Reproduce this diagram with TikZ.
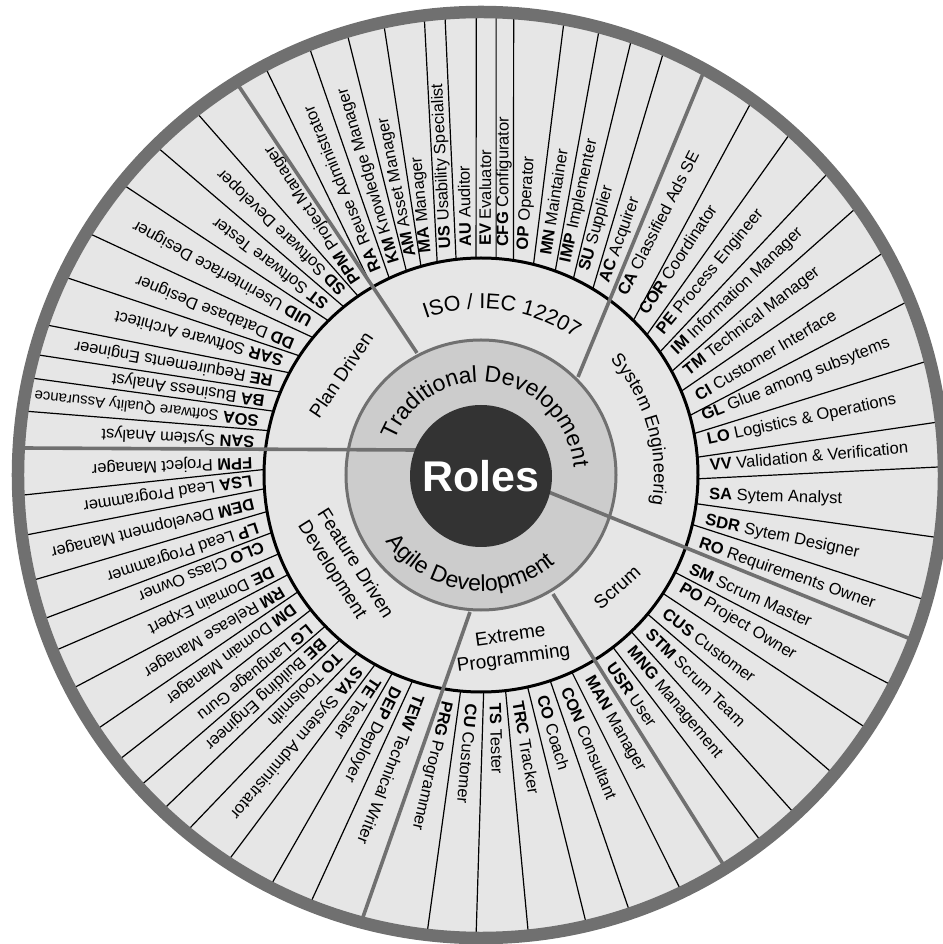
\documentclass[tikz,border=0pt]{standalone}
\usepackage{fontspec}
\setmainfont{Liberation Sans}
\usetikzlibrary{decorations.text}
\definecolor{wheelbg}{HTML}{E6E6E6}
\definecolor{ringbg}{HTML}{CCCCCC}
\definecolor{divgray}{HTML}{707070}
\definecolor{rolesdark}{HTML}{333333}

\begin{document}
\begin{tikzpicture}[
  x=1pt,y=1pt,
  divider/.style  ={line width=1.2pt,black,shorten <=-5pt,shorten >=-5pt},
  sector/.style   ={line width=3.6pt,divgray,shorten >=-6pt},
  rolelabel/.style={sloped,allow upside down,anchor=west,inner sep=0pt,
                    font=\fontsize{16.5}{16.5}\selectfont},
  seglabel/.style ={inner sep=0pt,font=\fontsize{19}{23}\selectfont},
  arctext/.style  ={decorate,decoration={text along path,text align=center,text={#1}}}]

  \useasboundingbox (-481,-469) rectangle (461,475);

  % ===== OUTER RING: background and role dividers =====
  \fill[wheelbg] (0,0) circle[radius=463pt];
  \foreach \angin/\angout in {
      168.2/172.0, 162.9/167.8, 157.5/164.8, 151.9/160.9, 146.7/154.5,
      140.7/148.3, 134.7/140.9, 129.2/134.6, 124.5/128.1, 120.1/117.9,
      115/111.9, 110.1/106.9, 106.05/102.2, 101.65/97.1, 96.6/94.5,
      91.3/90.6, 86/88.1, 81.4/85.9, 76/79.6, 70/75.1, 64.8/70.9, 59/66.6,
      45.4/54.0, 40.2/47.8, 34.5/41.0, 28.5/35.4, 22.7/28.9, 15.9/22.1,
      11/14.3, 4.7/6.6, -1/1.0, -7.6/-7.8, -13.2/-15.7,
      -26.65/-27.1, -33.05/-33.3, -39.85/-40.3, -46.2/-47.2, -52.55/-52.6,
      -65.25/-64.3, -71.4/-71.2, -77.6/-76.8, -83.5/-84.1, -89.3/-90.6, -95.4/-96.7,
      -108.4/-111.7, -114.1/-117.1, -119.2/-123.2, -124.75/-129.5, -130.55/-133.5,
      -135.85/-137.6, -141.6/-141.8, -147.45/-146.5, -152.7/-152.4, -158.7/-157.6,
      -164.6/-161.8, -170.3/-166.8, -176.35/-172.5, 178.55/-177.5}
    \draw[divider] (\angin:217pt) -- (\angout:457pt);

  % ===== ROLE LABELS (inner angle / outer angle / abbreviation / name) =====
  \foreach \angin/\angout/\abbr/\rname in {
      171.0/174.3/SAN/System Analyst,
      165.5/169.9/SOA/{\fontsize{15}{15}\selectfont Software Quality Assurance},
      160.3/166.3/BA/Business Analyst,
      154.6/162.85/RE/Requirements Engineer,
      149.2/157.7/SAR/Software Architect,
      144.1/151.4/DD/Database Designer,
      137.2/144.6/UID/Userinterface Designer,
      132.1/137.75/ST/Software Tester,
      126.3/131.35/SD/Software Developer,
      122.6/123/PPM/Project Manager,
      117.6/114.9/RA/Reuse Administrator,
      112.3/109.4/KM/Knowledge Manager,
      107.9/104.55/AM/Asset Manager,
      104.2/99.65/MA/Manager,
      99.1/95.8/US/Usability Specialist,
      94.1/92.55/AU/Auditor,
      89/89.35/EV/Evaluator,
      84/87/CFG/Configurator,
      78.9/82.75/OP/Operator,
      73.3/77.35/MN/Maintainer,
      67.7/73/IMP/Implementer,
      62.4/68.75/SU/Supplier,
      56.5/63.8/AC/Acquirer,
      51.5/57.5/CA/Classified Ads SE,
      44.5/50.9/COR/Coordinator,
      37.8/44.4/PE/Process Engineer,
      31.8/38.2/IM/Information Manager,
      25.9/32.15/TM/Technical Manager,
      19.5/25.5/CI/Customer Interface,
      14.3/18.2/GL/Glue among subsytems,
      8.5/10.45/LO/Logistics \& Operations,
      2.4/3.8/VV/Validation \& Verification,
      -5.3/-3.4/SA/Sytem Analyst,
      -11.5/-11.75/SDR/Sytem Designer,
      -17.4/-18.3/RO/Requirements Owner,
      -24/-24/SM/Scrum Master,
      -29.3/-30.2/PO/Project Owner,
      -36.8/-36.8/CUS/Customer,
      -42.9/-43.75/STM/Scrum Team,
      -49.5/-49.9/MNG/Management,
      -55.6/-55.35/USR/User,
      -62.2/-61.2/MAN/Manager,
      -68.3/-67.75/CON/Consultant,
      -74.5/-74/CO/Coach,
      -80.7/-80.45/TRC/Tracker,
      -86.3/-87.35/TS/Tester,
      -92.3/-93.65/CU/Customer,
      -98.5/-100.85/PRG/Programmer,
      -105.2/-108.35/TEW/Technical Writer,
      -111.6/-114.4/DEP/Deployer,
      -116.6/-120.15/TE/Tester,
      -121.8/-126.35/SYA/System Administrator,
      -127.7/-131.5/TO/Toolsmith,
      -133.4/-135.55/BE/Building Engineer,
      -138.3/-139.7/LG/Language Guru,
      -144.9/-144.15/DM/Domain Manager,
      -150/-149.45/RM/Release Manager,
      -155.4/-155/DE/Domain Expert,
      -162/-159.7/CLO/Class Owner,
      -167.2/-164.3/LP/Lead Programmer,
      -173.4/-169.65/DEM/Development Manager,
      -179.3/-175/LSA/Lead Programmer,
      176.4/179.55/FPM/Project Manager}
    \path (\angin:217pt) -- (\angout:457pt)
      node[rolelabel,pos=0.05] (r\abbr) {\textbf{\abbr} \rname};

  % ===== SEGMENT RING and border rings =====
  \fill[wheelbg] (0,0) circle[radius=217pt];
  \draw[line width=3pt] (0,0) circle[radius=217pt];
  \draw[line width=12.5pt,divgray] (0,0) circle[radius=463pt];
  \filldraw[fill=ringbg,draw=divgray,line width=3pt] (0,0) circle[radius=135pt];

  % sector dividers (gray)
  \draw[sector,shorten <=-8pt] (-66,25) -- (-458,27);   % Plan Driven / FDD
  \draw[sector] (-64,122) -- (-241,387);                % Plan Driven / ISO
  \draw[sector] (97,98) -- (221,399);                   % ISO / System Eng.
  \draw[sector,shorten <=-8pt] (70,-18) -- (427,-163);  % System Eng. / Scrum
  \draw[sector] (72,-119) -- (242,-389);                % Scrum / XP
  \draw[sector] (-11,-137) -- (-118,-442);              % XP / FDD

  % ===== CENTRE =====
  \fill[rolesdark] (0,-1) circle[radius=71pt];
  \node[text=white,font=\fontsize{43}{43}\selectfont\bfseries] (roles) at (0,-1) {Roles};

  \path[arctext={|\fontsize{23}{23}\selectfont|Traditional Development}]
    (158:93pt) arc[start angle=158,end angle=5,radius=93pt];
  \path[arctext={|\fontsize{23}{23}\selectfont|Agile Development}]
    (210:116pt) arc[start angle=210,end angle=315,radius=116pt];

  % ===== SEGMENT LABELS =====
  \path[arctext={|\fontsize{21.5}{21.5}\selectfont|ISO / IEC 12207}]
    (120:166pt) arc[start angle=120,end angle=45,radius=166pt];
  \path[arctext={|\fontsize{18.5}{18.5}\selectfont|System Engineerig}]
    (52:173pt) arc[start angle=52,end angle=-20,radius=173pt];
  \node[seglabel,rotate=56] (plan) at (-140,100) {Plan Driven};
  \node[seglabel,rotate=-57.7,align=left] (fdd) at (-136,-95) {Feature Driven\\Development};
  \node[seglabel,rotate=42] (scrum) at (136,-112) {Scrum};
  \node[seglabel,rotate=8,align=center] (xp) at (31,-173) {Extreme\\Programming};

\end{tikzpicture}
\end{document}
